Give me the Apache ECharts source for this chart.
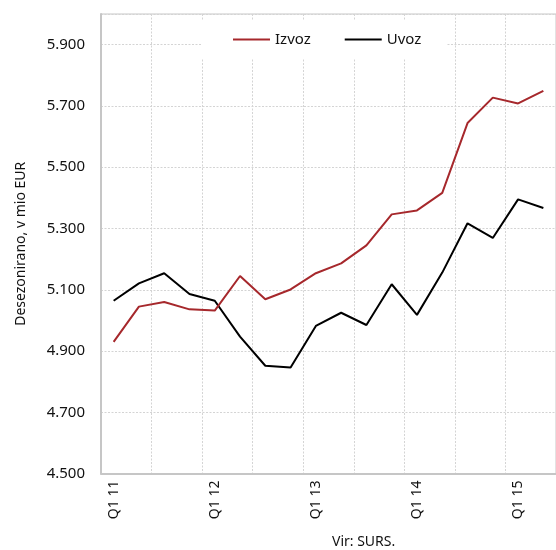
<!DOCTYPE html>
<html>
<head>
<meta charset="utf-8">
<title>Izvoz in uvoz</title>
<script src="https://cdn.jsdelivr.net/npm/echarts@6/dist/echarts.min.js"></script>
<style>
  html, body { margin: 0; padding: 0; background: #fff; }
  #chart { width: 556px; height: 550px; }
</style>
</head>
<body>
<div id="chart"></div>
<script>
// Quarterly categories, Q1 2011 – Q2 2015
const quarters = [
  'Q1 11', 'Q2 11', 'Q3 11', 'Q4 11',
  'Q1 12', 'Q2 12', 'Q3 12', 'Q4 12',
  'Q1 13', 'Q2 13', 'Q3 13', 'Q4 13',
  'Q1 14', 'Q2 14', 'Q3 14', 'Q4 14',
  'Q1 15', 'Q2 15'
];

// Seasonally adjusted values, mio EUR
const izvoz = [4930, 5045, 5060, 5036, 5032, 5145, 5069, 5101, 5154, 5186, 5245, 5346, 5359, 5416, 5644, 5727, 5708, 5749];
const uvoz  = [5064, 5121, 5154, 5086, 5064, 4947, 4852, 4846, 4982, 5025, 4985, 5118, 5018, 5156, 5317, 5269, 5395, 5367];

const yMin = 4500, yMax = 6000, yStep = 200;

const fontFamily = '"Noto Sans", "Open Sans", sans-serif';
const gridLineColor = '#d4d4d4';
const axisColor = '#c6c6c6';

// thousands separator as a dot
function fmt(v) {
  return String(v).replace(/\B(?=(\d{3})+(?!\d))/g, '.');
}

const chart = echarts.init(document.getElementById('chart'), null, { renderer: 'canvas' });

chart.setOption({
  animation: false,
  backgroundColor: '#fff',
  textStyle: { fontFamily: fontFamily },
  grid: {
    left: 101, top: 14, width: 463.5, height: 459.6,
    show: true, borderColor: axisColor, borderWidth: 1, backgroundColor: 'transparent'
  },
  legend: {
    left: 201, top: 20,
    padding: [12, 25, 12, 32],
    backgroundColor: '#fff',
    itemWidth: 37, itemHeight: 2, itemGap: 34,
    icon: 'rect',
    textStyle: { fontFamily: fontFamily, fontSize: 15, color: '#111' },
    data: ['Izvoz', 'Uvoz']
  },
  xAxis: {
    type: 'category',
    data: quarters,
    boundaryGap: true,
    axisLine: { show: true, lineStyle: { color: axisColor, width: 2 } },
    axisTick: { show: false },
    axisLabel: {
      interval: 3, rotate: 90, margin: 7,
      fontFamily: fontFamily, fontSize: 14, color: '#111'
    },
    splitLine: {
      show: true, interval: 1,
      lineStyle: { color: gridLineColor, width: 1, type: [2, 1.5] }
    }
  },
  yAxis: {
    type: 'value',
    min: yMin, max: yMax, interval: yStep,
    name: 'Desezonirano, v mio EUR',
    nameLocation: 'middle', nameGap: 73, nameRotate: 90,
    nameTextStyle: { fontFamily: fontFamily, fontSize: 14, color: '#111' },
    axisLine: { show: true, lineStyle: { color: axisColor, width: 2 } },
    axisTick: { show: false },
    axisLabel: {
      margin: 16, fontFamily: fontFamily, fontSize: 15, color: '#111',
      formatter: function (v) { return v === yMax ? '' : fmt(v); }
    },
    splitLine: {
      show: true,
      lineStyle: { color: gridLineColor, width: 1, type: [2, 1.5] }
    }
  },
  series: [
    {
      name: 'Uvoz', type: 'line', data: uvoz,
      showSymbol: false, symbol: 'none',
      lineStyle: { color: '#000', width: 2 },
      itemStyle: { color: '#000' }
    },
    {
      name: 'Izvoz', type: 'line', data: izvoz,
      showSymbol: false, symbol: 'none',
      lineStyle: { color: '#a6282c', width: 2 },
      itemStyle: { color: '#a6282c' }
    }
  ],
  graphic: [
    {
      type: 'text', left: 332, top: 535,
      style: { text: 'Vir: SURS.', fontFamily: fontFamily, fontSize: 14, fill: '#111', textAlign: 'center' }
    }
  ]
});
</script>
</body>
</html>
